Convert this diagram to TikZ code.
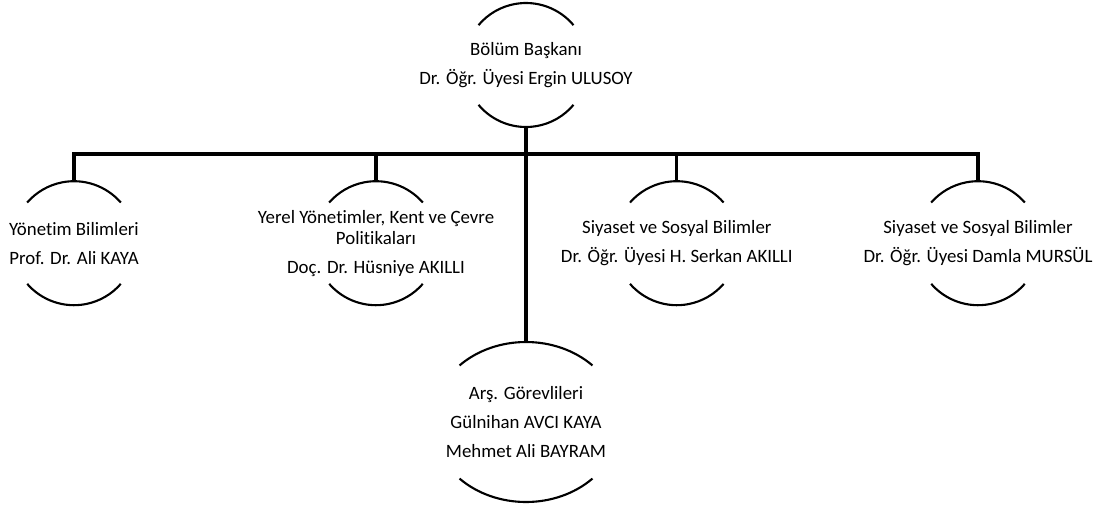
\documentclass[tikz,border=0pt]{standalone}
\usepackage{fontspec}
\setmainfont{Carlito}[Ligatures=NoCommon]
\usepackage{tikz}
\usetikzlibrary{shapes,positioning,calc}

\begin{document}
\begin{tikzpicture}[
    oval/.style n args={2}{ellipse, minimum width=#1, minimum height=#2, inner sep=0pt},
    txt/.style={align=center, font=\fontsize{13.4}{15}\selectfont, inner sep=0pt},
    arcline/.style={line width=1.5pt},
    bar/.style={line width=2.2pt},
    trunk/.style={line width=2.9pt}
]
\useasboundingbox (0,0) rectangle (27.4,-12.725);

% Head
\node[oval={3.1cm}{3.1cm}] (bolum) at (13.15,-1.625) {};
\node[txt] (bolum-t) at (bolum) {Bölüm Başkanı\\[5.7pt]Dr. Öğr. Üyesi Ergin ULUSOY};

% Departments
\node[oval={3.1cm}{3.1cm}] (yonetim) at (1.85,-6.08) {};
\node[txt] (yonetim-t) at (yonetim) {Yönetim Bilimleri\\[5.7pt]Prof. Dr. Ali KAYA};
\node[oval={3.1cm}{3.1cm}] (yerel) at (9.4,-6.08) {};
\node[txt] (yerel-t) at (yerel) {Yerel Yönetimler, Kent ve Çevre\\Politikaları\\[5.7pt]Doç. Dr. Hüsniye AKILLI};
\node[oval={3.1cm}{3.1cm}] (siyasetA) at (16.92,-6.08) {};
\node[txt] (siyasetA-t) at (siyasetA) {Siyaset ve Sosyal Bilimler\\[5.7pt]Dr. Öğr. Üyesi H. Serkan AKILLI};
\node[oval={3.1cm}{3.1cm}] (siyasetB) at (24.45,-6.08) {};
\node[txt] (siyasetB-t) at (siyasetB) {Siyaset ve Sosyal Bilimler\\[5.7pt]Dr. Öğr. Üyesi Damla MURSÜL};

% Assistants
\node[oval={4.7cm}{4cm}] (arastirma) at (13.15,-10.55) {};
\node[txt] (arastirma-t) at (arastirma) {Arş. Görevlileri\\[5.7pt]Gülnihan AVCI KAYA\\[5.7pt]Mehmet Ali BAYRAM};

% Arcs above and below
\foreach \n/\rx/\ry/\a in {bolum/1.55/1.55/40, yonetim/1.55/1.55/41, yerel/1.55/1.55/41,
    siyasetA/1.55/1.55/41, siyasetB/1.55/1.55/41, arastirma/2.35/2/45} {
  \draw[arcline] ([shift={(\a:\rx cm and \ry cm)}]\n.center)
    arc[start angle=\a, end angle=180-\a, x radius=\rx cm, y radius=\ry cm];
  \draw[arcline] ([shift={(180+\a:\rx cm and \ry cm)}]\n.center)
    arc[start angle=180+\a, end angle=360-\a, x radius=\rx cm, y radius=\ry cm];
}

% Connectors
\coordinate (hub) at (13.15,-3.85);
\draw[bar] (yonetim.north) |- (hub) -| (siyasetB.north);
\draw[bar] (yerel.north) -- (yerel.north |- hub);
\draw[bar] (siyasetA.north) -- (siyasetA.north |- hub);
\draw[trunk] (bolum.south) -- (arastirma.north);

\end{tikzpicture}
\end{document}
